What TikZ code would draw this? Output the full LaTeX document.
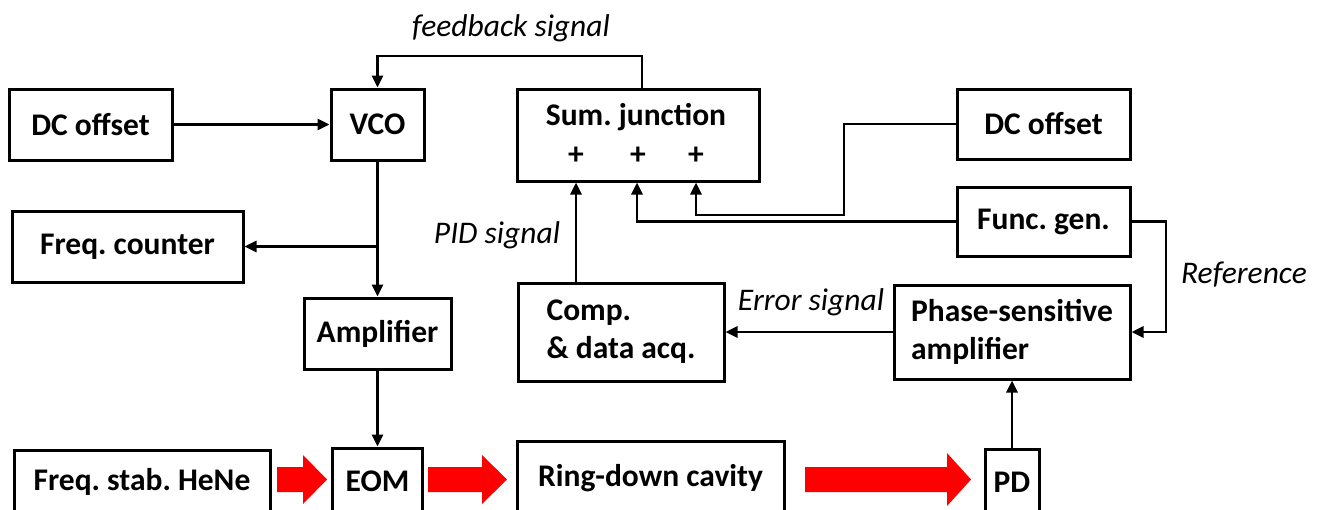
\documentclass[tikz,border=0pt]{standalone}
\usepackage{fontspec}
\setmainfont{Carlito}
\frenchspacing
\usetikzlibrary{arrows.meta,calc}
\begin{document}
\begin{tikzpicture}[x=1pt,y=-1pt,
  box/.style={draw=black,line width=3pt,inner sep=0pt,align=center,
    font=\bfseries\fontsize{31.5}{38}\selectfont},
  txt/.style={inner sep=0pt,font=\bfseries\fontsize{31.5}{38}\selectfont},
  lab/.style={inner sep=0pt,font=\itshape\fontsize{31.5}{38}\selectfont},
  arr/.style={line width=2.8pt,-{Triangle[length=12pt,width=11pt]}},
  beam/.style={fill=red,draw=none}]
\useasboundingbox (0,0) rectangle (1322,509);
\clip (0,0) rectangle (1322,509);
\fill[white] (0,0) rectangle (1322,509);
% boxes
\node[box,minimum width=163,minimum height=71] (dcL) at (90.5,124.5) {DC offset};
\node[box,minimum width=93,minimum height=71] (vco) at (377.5,124.5) {VCO};
\node[box,minimum width=242,minimum height=92] (sum) at (638,135) {};
\node[txt] (sumtxt) at (636,117) {Sum. junction};
\node[txt] (plus1) at (576,156) {+};
\node[txt] (plus2) at (638,156) {+};
\node[txt] (plus3) at (696,156) {+};
\node[box,minimum width=173,minimum height=70] (dcR) at (1043.5,124) {DC offset};
\node[box,minimum width=173,minimum height=69] (fg) at (1043.5,221.5) {Func. gen.};
\node[box,minimum width=231,minimum height=71] (fc) at (127.5,246.5) {Freq. counter};
\node[box,minimum width=147,minimum height=71] (amp) at (377.5,333.5) {Amplifier};
\node[box,minimum width=206,minimum height=98,align=left] (comp) at (621,332) {Comp.\\\& data acq.};
\node[box,minimum width=236,minimum height=94,align=left] (psa) at (1012,332) {Phase-sensitive\\amplifier};
\node[box,minimum width=256,minimum height=64] (hene) at (142,482) {Freq. stab. HeNe};
\node[box,minimum width=90,minimum height=66] (eom) at (377.5,481) {EOM};
\node[box,minimum width=267,minimum height=74] (ring) at (650.5,478) {Ring-down cavity};
\node[box,minimum width=54,minimum height=66] (pd) at (1012,482) {PD};
% labels
\node[lab] (lfb) at (511,28) {feedback signal};
\node[lab] (lpid) at (497,235) {PID signal};
\node[lab] (lerr) at (811,302) {Error signal};
\node[lab] (lref) at (1244,275) {Reference};
% connectors
\coordinate (fb) at (642,56);
\coordinate (j) at (844,215);
\coordinate (p1) at (576,0);
\coordinate (p2) at (637,0);
\coordinate (p3) at (696,0);
\coordinate (rr) at (1166,0);
\draw[arr] (dcL) -- (vco);
\draw[arr] (fb |- sum.north) -- (fb) -| (vco.north);
\draw[arr] (vco.south) -- (amp.north);
\draw[arr] (vco.south |- fc.east) -- (fc.east);
\draw[arr] (amp.south) -- (eom.north);
\draw[arr] (p1 |- comp.north) -- (p1 |- sum.south);
\draw[arr] (fg.west) -| (p2 |- sum.south);
\draw[arr] (dcR.west) -| (j) -| (p3 |- sum.south);
\draw[arr] (fg.east) -- (rr |- fg.east) |- (psa.east);
\draw[arr] (psa.west) -- (comp.east);
\draw[arr] (pd.north) -- (psa.south);
% red beam arrows
\fill[beam] (277,467) -- (303,467) -- (303,455) -- (327,479.5) -- (303,504) -- (303,492) -- (277,492) -- cycle;
\fill[beam] (428,467) -- (482,467) -- (482,455) -- (507,479.5) -- (482,504) -- (482,492) -- (428,492) -- cycle;
\fill[beam] (805,467) -- (947,467) -- (947,453) -- (971,479.5) -- (947,506) -- (947,492) -- (805,492) -- cycle;
\end{tikzpicture}
\end{document}
